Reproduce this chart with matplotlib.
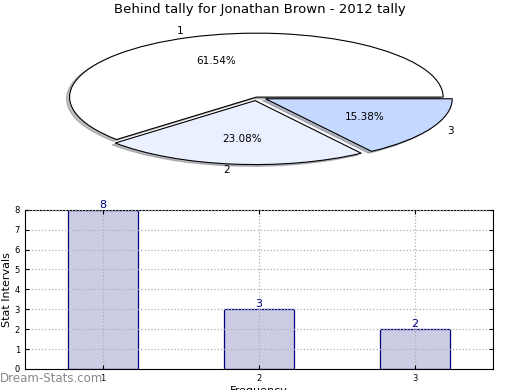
import matplotlib
matplotlib.use('Agg')
import matplotlib.pyplot as plt

# pie data
slice_labels = ['1', '2', '3']
slice_values = [8, 3, 2]
slice_colors = ['#ffffff', '#eaf0ff', '#c5d8ff']
slice_explode = [0, 0.055, 0.055]

# bar data
bar_cats = [1, 2, 3]
bar_values = [8, 3, 2]

fig = plt.figure(figsize=(5.2, 3.9), dpi=100)

# top: squashed pie
ax1 = fig.add_axes([0.044, 0.546, 0.898, 0.41])
wedges, texts, autotexts = ax1.pie(slice_values, labels=slice_labels, colors=slice_colors,
                                   explode=slice_explode, autopct='%.2f%%',
                                   shadow={'ox': -0.012, 'oy': -0.02, 'shade': 0.5},
                                   startangle=0, counterclock=True, labeldistance=1.1,
                                   pctdistance=0.6,
                                   wedgeprops={'edgecolor': 'black', 'linewidth': 0.8},
                                   textprops={'fontsize': 7.5})
ax1.set_aspect('auto')
ax1.set_xlim(-1.25, 1.25)
ax1.set_ylim(-1.25, 1.25)
fig.text(0.5, 0.975, 'Behind tally for Jonathan Brown - 2012 tally', ha='center', va='center',
         fontsize=9.5)

# bottom: bars
ax2 = fig.add_axes([0.048, 0.054, 0.9, 0.408])
ax2.bar(bar_cats, bar_values, width=0.45, color='#ccccE5', edgecolor='#000080', linewidth=0.9,
        zorder=2)
for x, v in zip(bar_cats, bar_values):
    ax2.text(x, v, str(v), ha='center', va='bottom', color='#000080', fontsize=8)
ax2.set_xlim(0.5, 3.5)
ax2.set_ylim(0, 8)
ax2.set_xticks(bar_cats)
ax2.set_yticks(range(0, 9))
ax2.tick_params(labelsize=6, direction='in', top=True, right=True, length=3)
ax2.grid(True, linestyle=':', color='#b0b0b0', linewidth=0.9, zorder=3)
ax2.set_axisbelow(False)
ax2.set_ylabel('Stat Intervals', fontsize=8, labelpad=2)
ax2.set_xlabel('Frequency', fontsize=8, labelpad=2)

fig.text(0.0, 0.012, 'Dream-Stats.com', color='#888888', fontsize=8.5, ha='left', va='bottom')

fig.savefig('out.png', dpi=100)
